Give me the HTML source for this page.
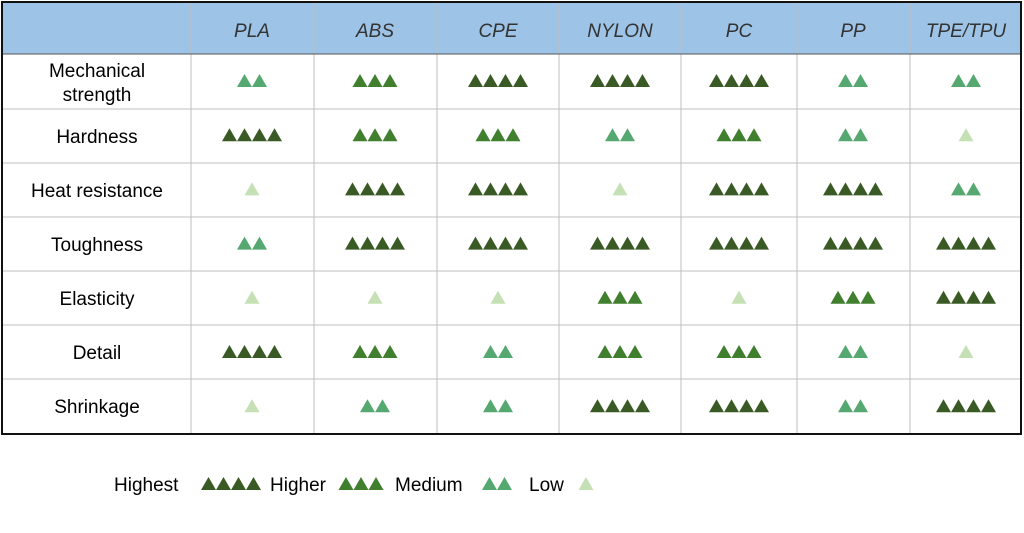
<!DOCTYPE html>
<html><head><meta charset="utf-8"><style>
body{margin:0;background:#fff;width:1024px;height:533px;overflow:hidden}
svg{display:block}
text{font-family:"Liberation Sans",sans-serif}
</style></head><body>
<svg id="s" width="1024" height="533" xmlns="http://www.w3.org/2000/svg">
<rect x="2" y="2" width="1019" height="52" fill="#9dc3e6"/>
<g stroke="#bfbfbf" stroke-width="1">
<line x1="191" y1="2" x2="191" y2="434"/><line x1="314" y1="2" x2="314" y2="434"/>
<line x1="437" y1="2" x2="437" y2="434"/><line x1="559" y1="2" x2="559" y2="434"/>
<line x1="681" y1="2" x2="681" y2="434"/><line x1="797" y1="2" x2="797" y2="434"/>
<line x1="910" y1="2" x2="910" y2="434"/>
<line x1="2" y1="109" x2="1021" y2="109"/><line x1="2" y1="163" x2="1021" y2="163"/>
<line x1="2" y1="217" x2="1021" y2="217"/><line x1="2" y1="271" x2="1021" y2="271"/>
<line x1="2" y1="325" x2="1021" y2="325"/><line x1="2" y1="379" x2="1021" y2="379"/>
</g>
<line x1="2" y1="54" x2="1021" y2="54" stroke="#555" stroke-width="1"/>
<rect x="2" y="2" width="1019" height="432" fill="none" stroke="#111" stroke-width="2"/>
<g font-size="19" font-style="italic" fill="#333" text-anchor="middle">
<text x="252" y="37">PLA</text><text x="375" y="37">ABS</text><text x="498" y="37">CPE</text>
<text x="620" y="37">NYLON</text><text x="739" y="37">PC</text><text x="853" y="37">PP</text><text x="966" y="37">TPE/TPU</text>
</g>
<g font-size="19" fill="#000" text-anchor="middle">
<text x="97" y="77">Mechanical</text><text x="97" y="101">strength</text>
<text x="97" y="143">Hardness</text><text x="97" y="197">Heat resistance</text>
<text x="97" y="251">Toughness</text><text x="97" y="305">Elasticity</text>
<text x="97" y="359">Detail</text><text x="97" y="413">Shrinkage</text>
</g>
<g font-size="19" fill="#000">
<text x="114" y="491">Highest</text><text x="270" y="491">Higher</text>
<text x="395" y="491">Medium</text><text x="529" y="491">Low</text>
</g>
<g id="t"></g>
</svg>
<script>
var C={4:"#3a5a25",3:"#3f7f2e",2:"#55a870",1:"#c5e0b4"};
var D=[[2,3,4,4,4,2,2],[4,3,3,2,3,2,1],[1,4,4,1,4,4,2],[2,4,4,4,4,4,4],[1,1,1,3,1,3,4],[4,3,2,3,3,2,1],[1,2,2,4,4,2,4]];
var X=[252,375,498,620,739,853,966];
var g=document.getElementById("t"),h="";
function tri(cx,cy,n){var w=15,s="";var x0=cx-(n*w)/2;for(var i=0;i<n;i++){var a=x0+i*w;s+='<polygon points="'+a+','+(cy+6)+' '+(a+w)+','+(cy+6)+' '+(a+w/2)+','+(cy-7)+'" fill="'+C[n]+'"/>';}return s;}
for(var r=0;r<7;r++)for(var c=0;c<7;c++)h+=tri(X[c],81+r*54.2,D[r][c]);
h+=tri(231,484,4)+tri(361,484,3)+tri(497,484,2)+tri(586,484,1);
g.innerHTML=h;
</script>
</body></html>
